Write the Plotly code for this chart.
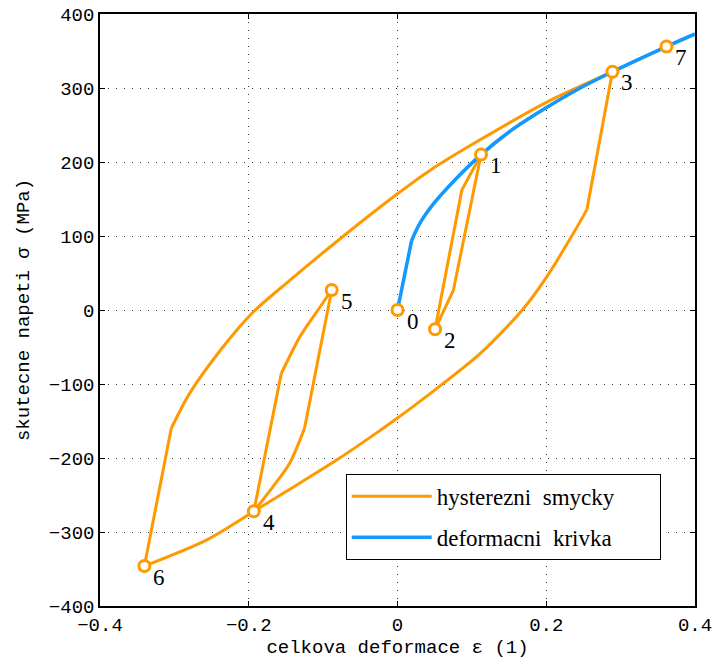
import plotly.graph_objects as go

# deformation curve (blue)
curve_eps = [0.0, 0.019, 0.030, 0.048, 0.0775, 0.1123, 0.156, 0.201, 0.2457, 0.289, 0.3616, 0.4]
curve_sig = [0, 94, 117, 143, 176, 210, 245, 274, 300, 322, 356, 373]

# hysteresis loops (orange), branch by branch
b1_eps = [0.1123, 0.0752, 0.0505]            # 1 -> 2 unloading
b1_sig = [210, 27, -26]
b2_eps = [0.0505, 0.0865, 0.1123]            # 2 -> 1 reloading
b2_sig = [-26, 162, 210]
b3_eps = [0.1123, 0.156, 0.201, 0.2457, 0.289]   # 1 -> 3
b3_sig = [210, 245, 274, 300, 322]
b4a_eps = [0.289, 0.2547]                     # 3 -> 4 elastic part
b4a_sig = [322, 136]
b4b_eps = [0.2547, 0.239, 0.2008, 0.1695, 0.111, 0.0438, 0.0, -0.0238, -0.0777, -0.1316, -0.1932]
b4b_sig = [136, 108, 45, 2, -59, -113, -146, -163, -200, -234, -272]
b5a_eps = [-0.1932, -0.1563]                  # 4 -> 5 elastic part
b5a_sig = [-272, -86]
b5b_eps = [-0.1563, -0.1317, -0.109, -0.0885]
b5b_sig = [-86, -37, -3, 27]
b6a_eps = [-0.0885, -0.125]                   # 5 -> 4 elastic part
b6a_sig = [27, -160]
b6b_eps = [-0.125, -0.145, -0.1676, -0.1932]
b6b_sig = [-160, -207, -239, -272]
b7_eps = [-0.1932, -0.257, -0.3403]           # 4 -> 6
b7_sig = [-272, -311, -346]
b8a_eps = [-0.3403, -0.3042]                  # 6 -> 7 elastic part
b8a_sig = [-346, -160]
b8b_eps = [-0.3042, -0.2797, -0.2347, -0.1943, -0.1449, -0.0775, 0.0, 0.044, 0.111, 0.2008, 0.289, 0.3616]
b8b_sig = [-160, -113, -50, -3, 40, 96, 157, 189, 230, 281, 322, 356]

# numbered reversal points
pt_labels = ["0", "1", "2", "3", "4", "5", "6", "7"]
pt_eps = [0.0, 0.1123, 0.0505, 0.289, -0.1932, -0.0885, -0.3403, 0.3616]
pt_sig = [0, 210, -26, 322, -272, 27, -346, 356]

x_ticks = [-0.4, -0.2, 0, 0.2, 0.4]
x_ticktext = ["\u22120.4", "\u22120.2", "0", "0.2", "0.4"]
y_ticks = [-400, -300, -200, -100, 0, 100, 200, 300, 400]
y_ticktext = ["\u2212400", "\u2212300", "\u2212200", "\u2212100", "0", "100", "200", "300", "400"]

ORANGE = "#FF9900"
BLUE = "#1199FF"
PAD = "\u00a0" * 7

fig = go.Figure()
branches = [(b1_eps, b1_sig, "linear"), (b2_eps, b2_sig, "linear"), (b3_eps, b3_sig, "spline"),
            (b4a_eps, b4a_sig, "linear"), (b4b_eps, b4b_sig, "spline"),
            (b5a_eps, b5a_sig, "linear"), (b5b_eps, b5b_sig, "spline"),
            (b6a_eps, b6a_sig, "linear"), (b6b_eps, b6b_sig, "spline"),
            (b7_eps, b7_sig, "spline"), (b8a_eps, b8a_sig, "linear"), (b8b_eps, b8b_sig, "spline")]
for i, (bx, by, shp) in enumerate(branches):
    fig.add_trace(go.Scatter(x=bx, y=by, mode="lines", name="hysterezni  smycky" + PAD,
                             line=dict(color=ORANGE, width=3, shape=shp, smoothing=0.8),
                             legendgroup="a", showlegend=(i == 0)))

fig.add_trace(go.Scatter(x=curve_eps[:2], y=curve_sig[:2], mode="lines", name="deformacni  krivka",
                         line=dict(color=BLUE, width=3.5), legendgroup="b", showlegend=True))
fig.add_trace(go.Scatter(x=curve_eps[1:], y=curve_sig[1:], mode="lines", name="deformacni  krivka",
                         line=dict(color=BLUE, width=3.5, shape="spline", smoothing=0.8),
                         legendgroup="b", showlegend=False))
fig.add_trace(go.Scatter(x=pt_eps, y=pt_sig, mode="markers", showlegend=False,
                         marker=dict(size=11, color="white", line=dict(color=ORANGE, width=3))))

for lab, xe, ys in zip(pt_labels, pt_eps, pt_sig):
    fig.add_annotation(x=xe, y=ys, text=lab, showarrow=False, xshift=15, yshift=-11,
                       font=dict(family="Liberation Serif", size=23, color="black"))

mono = "Liberation Mono"
axis_common = dict(showline=True, linecolor="black", linewidth=1.5, mirror="ticks",
                   ticks="inside", ticklen=5, tickcolor="black", tickwidth=1,
                   showgrid=True, gridcolor="#333333", griddash="1px,7px", gridwidth=1,
                   zeroline=False, automargin=False,
                   tickfont=dict(family=mono, size=19, color="black"))

fig.update_xaxes(range=[-0.4, 0.4], tickvals=x_ticks, ticktext=x_ticktext,
                 title=dict(text="celkova deformace \u03b5 (1)", font=dict(family=mono, size=19, color="black"),
                            standoff=4),
                 **axis_common)
fig.update_yaxes(range=[-400, 400], tickvals=y_ticks, ticktext=y_ticktext,
                 title=dict(text="skutecne napeti \u03c3 (MPa)", font=dict(family=mono, size=19, color="black"),
                            standoff=14),
                 **axis_common)

fig.update_layout(
    width=714, height=661,
    margin=dict(l=100, r=19, t=14, b=55),
    plot_bgcolor="white", paper_bgcolor="white",
    legend=dict(x=0.413, y=0.078, xanchor="left", yanchor="bottom",
                bgcolor="white", bordercolor="black", borderwidth=1,
                font=dict(family="Liberation Serif", size=23, color="black"),
                traceorder="grouped", tracegroupgap=8, itemwidth=80),
    showlegend=True,
)

fig.write_html("out.html", config={"displayModeBar": False},
               post_script="document.body.style.margin='0px';")
